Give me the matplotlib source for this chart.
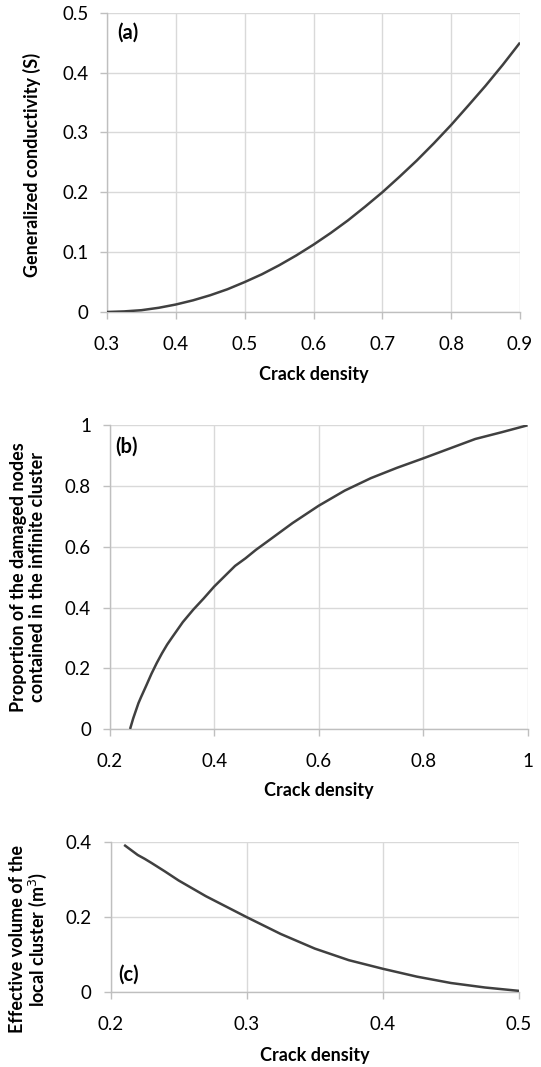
import matplotlib
matplotlib.use("Agg")
import matplotlib.pyplot as plt

plt.rcParams['font.family'] = ['Lato', 'DejaVu Sans']

# Panel (a): generalized conductivity vs crack density
a_x = [0.300, 0.325, 0.350, 0.375, 0.400, 0.425, 0.450, 0.475, 0.500, 0.525, 0.550, 0.575, 0.600,
       0.625, 0.650, 0.675, 0.700, 0.725, 0.750, 0.775, 0.800, 0.825, 0.850, 0.875, 0.900]
a_y = [0.000, 0.001, 0.003, 0.007, 0.0125, 0.0195, 0.028, 0.038, 0.050, 0.063, 0.078, 0.0945, 0.1125,
       0.132, 0.153, 0.176, 0.200, 0.226, 0.253, 0.282, 0.3125, 0.345, 0.378, 0.413, 0.450]

# Panel (b): proportion of damaged nodes in infinite cluster
b_x = [0.239, 0.245, 0.250, 0.255, 0.260, 0.270, 0.280, 0.290, 0.300, 0.310, 0.320, 0.340, 0.360,
       0.380, 0.400, 0.420, 0.440, 0.460, 0.480, 0.500, 0.550, 0.600, 0.650, 0.700, 0.750, 0.800,
       0.850, 0.900, 0.950, 1.000]
b_y = [0.000, 0.035, 0.060, 0.085, 0.105, 0.143, 0.182, 0.217, 0.249, 0.278, 0.303, 0.352, 0.393,
       0.430, 0.469, 0.503, 0.537, 0.562, 0.590, 0.615, 0.678, 0.735, 0.785, 0.826, 0.860, 0.891,
       0.923, 0.955, 0.977, 1.000]

# Panel (c): effective volume of local cluster
c_x = [0.210, 0.220, 0.225, 0.230, 0.240, 0.250, 0.270, 0.300, 0.325, 0.350, 0.375, 0.400,
       0.425, 0.450, 0.475, 0.500]
c_y = [0.393, 0.366, 0.356, 0.345, 0.322, 0.298, 0.256, 0.200, 0.155, 0.116, 0.085, 0.062,
       0.041, 0.024, 0.012, 0.003]

panels = [
    dict(x=a_x, y=a_y, pos=[0.1978, 0.7076, 0.7634, 0.2805], xlim=(0.3, 0.9),
         xticks=[0.3, 0.4, 0.5, 0.6, 0.7, 0.8, 0.9], xtl=['0.3', '0.4', '0.5', '0.6', '0.7', '0.8', '0.9'],
         ylim=(0, 0.5), yticks=[0, 0.1, 0.2, 0.3, 0.4, 0.5], ytl=['0', '0.1', '0.2', '0.3', '0.4', '0.5'],
         ylabel='Generalized conductivity (S)', ylc=(-0.1816, 0.493), xlc=(0.5, -0.2105),
         tag='(a)', tagpos=(0.024, 0.933)),
    dict(x=b_x, y=b_y, pos=[0.2028, 0.3168, 0.7723, 0.2846], xlim=(0.2, 1.0),
         xticks=[0.2, 0.4, 0.6, 0.8, 1.0], xtl=['0.2', '0.4', '0.6', '0.8', '1'],
         ylim=(0, 1.0), yticks=[0, 0.2, 0.4, 0.6, 0.8, 1.0], ytl=['0', '0.2', '0.4', '0.6', '0.8', '1'],
         ylabel='Proportion of the damaged nodes\ncontained in the infinite cluster',
         ylc=(-0.1956, 0.5), xlc=(0.5, -0.204), tag='(b)', tagpos=(0.013, 0.928)),
    dict(x=c_x, y=c_y, pos=[0.2043, 0.0703, 0.7551, 0.1403], xlim=(0.2, 0.5),
         xticks=[0.2, 0.3, 0.4, 0.5], xtl=['0.2', '0.3', '0.4', '0.5'],
         ylim=(0, 0.4), yticks=[0, 0.2, 0.4], ytl=['0', '0.2', '0.4'],
         ylabel='Effective volume of the\nlocal cluster (m$^3$)',
         ylc=(-0.1995, 0.354), xlc=(0.5, -0.4275), tag='(c)', tagpos=(0.018, 0.113)),
]

fig = plt.figure(figsize=(5.41, 10.67), dpi=100)
for p in panels:
    ax = fig.add_axes(p['pos'])
    ax.plot(p['x'], p['y'], color='#404040', lw=1.8, solid_capstyle='butt', zorder=3)
    ax.set_xlim(*p['xlim'])
    ax.set_ylim(*p['ylim'])
    ax.set_xticks(p['xticks'])
    ax.set_xticklabels(p['xtl'])
    ax.set_yticks(p['yticks'])
    ax.set_yticklabels(p['ytl'])
    ax.grid(True, color='#d9d9d9', lw=1.0, zorder=0)
    ax.set_axisbelow(True)
    for s in ['top', 'right']:
        ax.spines[s].set_visible(False)
    for s in ['left', 'bottom']:
        ax.spines[s].set_color('#bfbfbf')
        ax.spines[s].set_linewidth(1.0)
    ax.tick_params(axis='both', direction='out', length=5, width=1.0, color='#bfbfbf',
                   labelsize=13.5, labelcolor='#000000')
    ax.tick_params(axis='y', pad=8.5)
    ax.tick_params(axis='x', pad=12.5)
    ax.set_xlabel('Crack density', fontsize=13, fontweight='bold', va='center')
    ax.xaxis.set_label_coords(*p['xlc'])
    ax.set_ylabel(p['ylabel'], fontsize=13, fontweight='bold', va='center', ha='center',
                  linespacing=1.1)
    ax.yaxis.set_label_coords(*p['ylc'])
    ax.text(p['tagpos'][0], p['tagpos'][1], p['tag'], transform=ax.transAxes,
            fontsize=14.5, fontweight='bold', ha='left', va='center')

fig.savefig('out.png', dpi=100, facecolor='white')
